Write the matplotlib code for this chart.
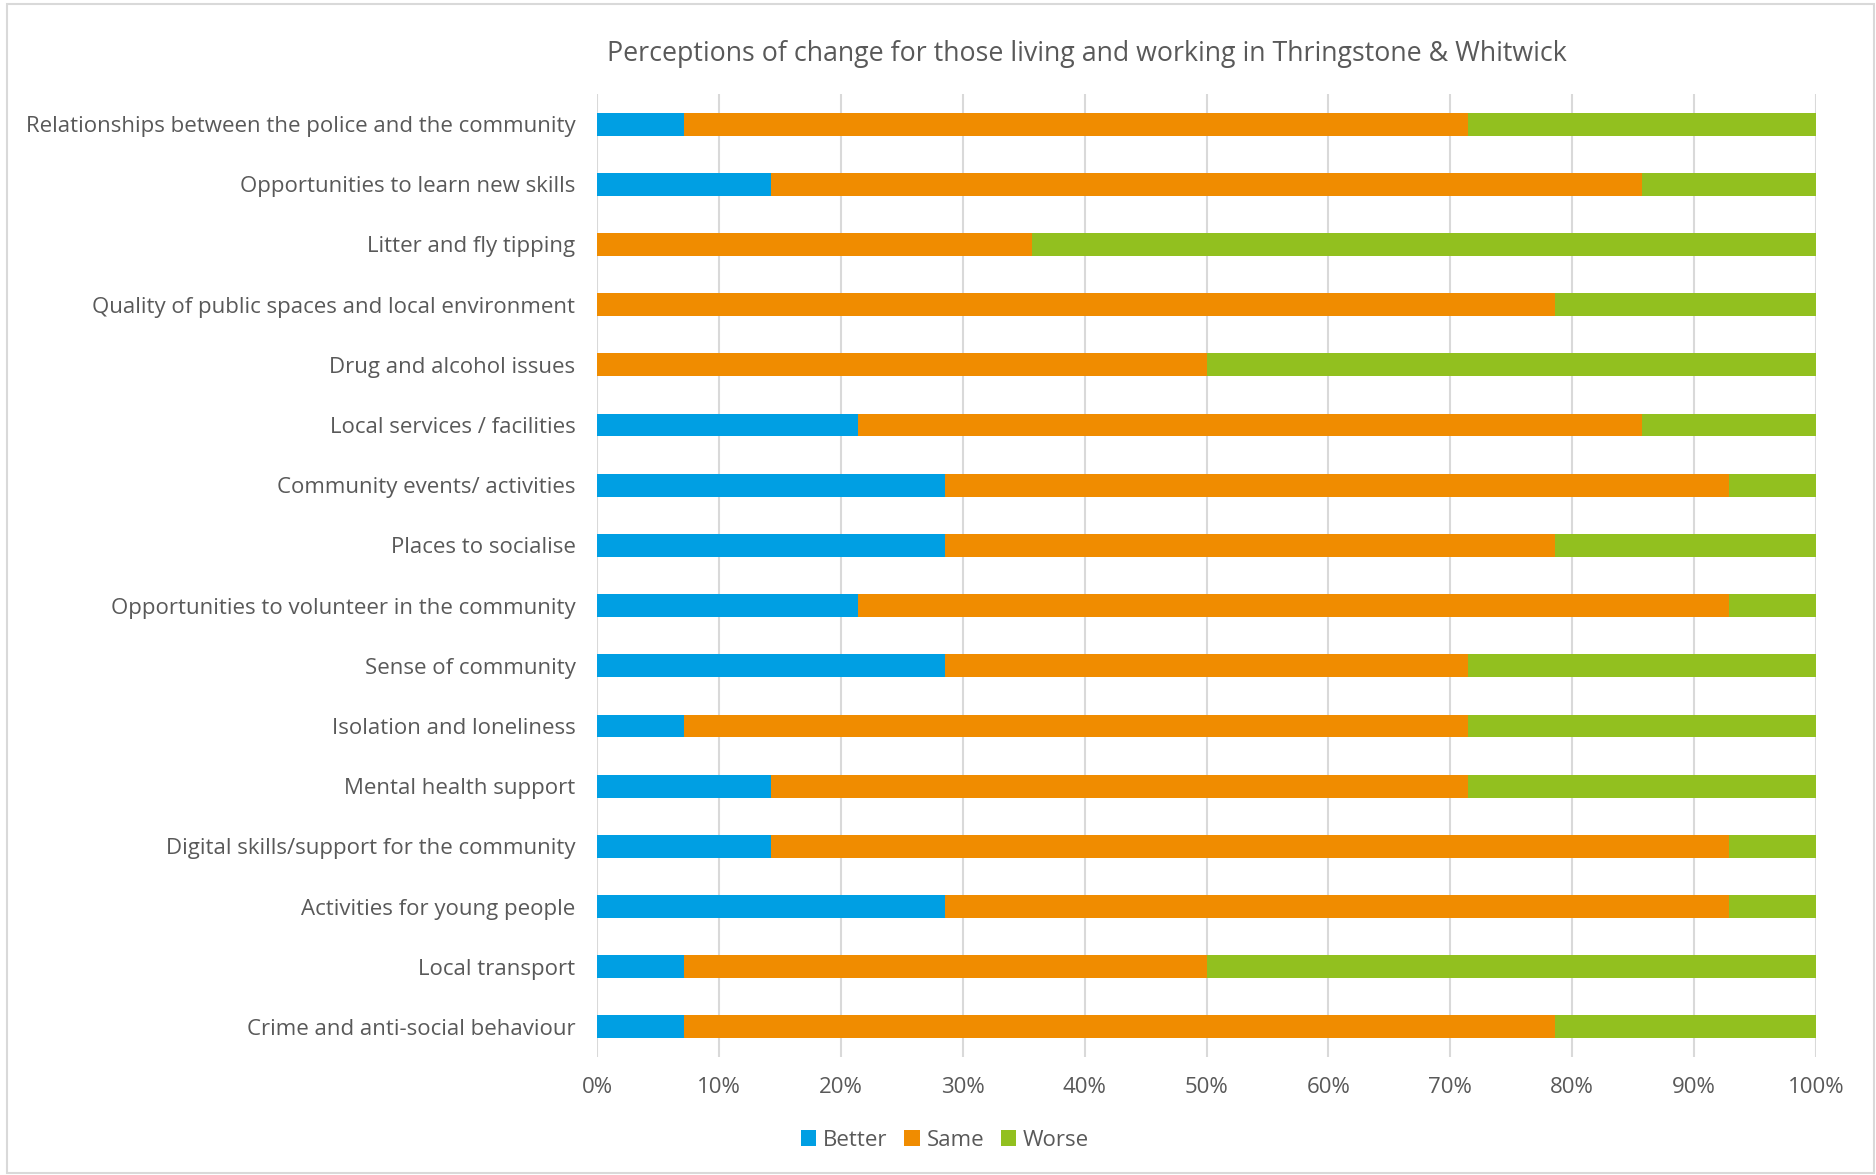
import matplotlib.pyplot as plt
from matplotlib.patches import Rectangle
from matplotlib.ticker import PercentFormatter

# Share of responses (%) per topic, listed top to bottom
topics = [
    'Relationships between the police and the community',
    'Opportunities to learn new skills',
    'Litter and fly tipping',
    'Quality of public spaces and local environment',
    'Drug and alcohol issues',
    'Local services / facilities',
    'Community events/ activities',
    'Places to socialise',
    'Opportunities to volunteer in the community',
    'Sense of community',
    'Isolation and loneliness',
    'Mental health support',
    'Digital skills/support for the community',
    'Activities for young people',
    'Local transport',
    'Crime and anti-social behaviour',
]
better = [7.14, 14.29, 0, 0, 0, 21.43, 28.57, 28.57, 21.43, 28.57, 7.14, 14.29, 14.29, 28.57, 7.14, 7.14]
same = [64.29, 71.43, 35.71, 78.57, 50.0, 64.29, 64.29, 50.0, 71.43, 42.86, 64.29, 57.14, 78.57, 64.29, 42.86, 71.43]
worse = [28.57, 14.29, 64.29, 21.43, 50.0, 14.29, 7.14, 21.43, 7.14, 28.57, 28.57, 28.57, 7.14, 7.14, 50.0, 21.43]

series = ['Better', 'Same', 'Worse']
colors = ['#009FE3', '#F08C00', '#92C01F']
text_color = '#595959'

plt.rcParams['font.family'] = ['Open Sans', 'DejaVu Sans']

fig = plt.figure(figsize=(18.76, 11.75), dpi=100)
ax = fig.add_axes([597 / 1876, 1 - 1057 / 1175, (1816 - 597) / 1876, (1057 - 94) / 1175])

y = list(range(len(topics)))
left = [0] * len(topics)
for name, vals, col in zip(series, [better, same, worse], colors):
    ax.barh(y, vals, left=left, height=0.38, color=col, label=name, zorder=3)
    left = [a + b for a, b in zip(left, vals)]

ax.set_ylim(len(topics) - 0.5, -0.5)
ax.set_xlim(0, 100)
ax.set_yticks(y)
ax.set_yticklabels(topics, fontsize=16, color=text_color)
ax.set_xticks(range(0, 101, 10))
ax.xaxis.set_major_formatter(PercentFormatter(decimals=0))
ax.tick_params(axis='x', labelsize=16, colors=text_color, length=0, pad=14.5)
ax.tick_params(axis='y', length=0, pad=15.5)
ax.grid(axis='x', color='#D9D9D9', linewidth=1.5, zorder=0)
for s in ax.spines.values():
    s.set_visible(False)

fig.text(1087 / 1876, 1 - 54 / 1175, 'Perceptions of change for those living and working in Thringstone & Whitwick',
         ha='center', va='center', fontsize=19.3, color=text_color)

fig.legend(loc='center', bbox_to_anchor=(945 / 1876, 1 - 1140 / 1175), ncol=3, frameon=False,
           fontsize=16, labelcolor=text_color, handlelength=0.7, handleheight=0.7,
           handletextpad=0.3, columnspacing=0.75)

# light frame round the chart
fig.patches.append(Rectangle((7 / 1876, 1 - 1173 / 1175), (1874 - 7) / 1876, (1173 - 4) / 1175,
                             transform=fig.transFigure, fill=False, edgecolor='#D9D9D9', linewidth=1.5))

fig.savefig('out.png', dpi=100, facecolor='white')
